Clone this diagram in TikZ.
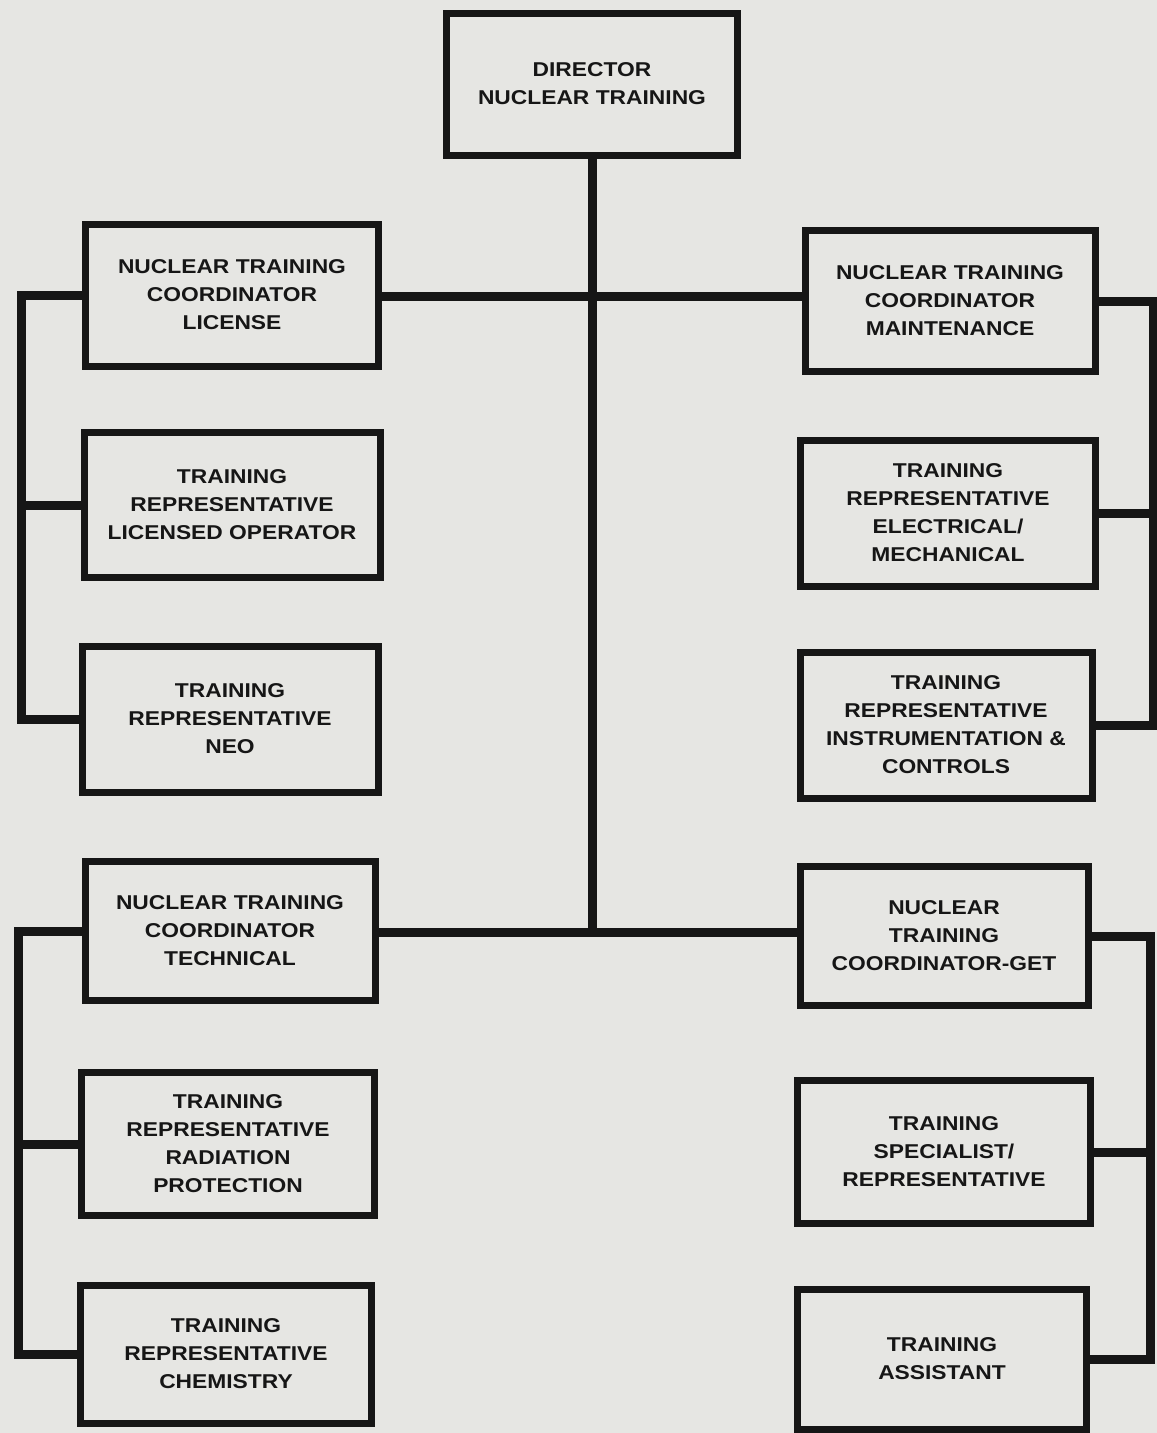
\documentclass[tikz,border=0pt]{standalone}
\usepackage{fontspec}
\setmainfont{Liberation Sans}[FakeStretch=1.14]
\pgfdeclarelayer{bg}
\pgfsetlayers{bg,main}
\begin{document}
\begin{tikzpicture}[x=1pt,y=-1pt,
  box/.style={draw=ink,line width=7pt,fill=paper,minimum width=#1,align=center,
    inner sep=0pt,font=\fontsize{20}{28}\selectfont\bfseries,text=ink},
  box/.default=291pt,
  link/.style={draw=ink,line width=9pt},
  bracket/.style={link,line cap=rect}]
\definecolor{paper}{HTML}{E6E6E3}
\definecolor{ink}{HTML}{161616}
\useasboundingbox (0,0) rectangle (1157,1433);
% boxes
\node[box, minimum height=142pt] (D) at (592,84) {DIRECTOR\\NUCLEAR TRAINING};
\node[box=293pt, minimum height=142pt] (L1) at (232,295) {NUCLEAR TRAINING\\COORDINATOR\\LICENSE};
\node[box=296pt, minimum height=145pt] (L2) at (232,505) {TRAINING\\REPRESENTATIVE\\LICENSED OPERATOR};
\node[box=296pt, minimum height=146pt] (L3) at (230,719) {TRAINING\\REPRESENTATIVE\\NEO};
\node[box=290pt, minimum height=139pt] (L4) at (230,931) {NUCLEAR TRAINING\\COORDINATOR\\TECHNICAL};
\node[box=293pt, minimum height=143pt] (L5) at (228,1144) {TRAINING\\REPRESENTATIVE\\RADIATION\\PROTECTION};
\node[box=291pt, minimum height=138pt] (L6) at (226,1354) {TRAINING\\REPRESENTATIVE\\CHEMISTRY};
\node[box=290pt, minimum height=141pt] (R1) at (950,301) {NUCLEAR TRAINING\\COORDINATOR\\MAINTENANCE};
\node[box=295pt, minimum height=146pt] (R2) at (948,513) {TRAINING\\REPRESENTATIVE\\ELECTRICAL/\\MECHANICAL};
\node[box=292pt, minimum height=146pt] (R3) at (946,725) {TRAINING\\REPRESENTATIVE\\INSTRUMENTATION \&\\CONTROLS};
\node[box=288pt, minimum height=139pt] (R4) at (944,936) {NUCLEAR\\TRAINING\\COORDINATOR-GET};
\node[box=293pt, minimum height=143pt] (R5) at (944,1152) {TRAINING\\SPECIALIST/\\REPRESENTATIVE};
\node[box=289pt, minimum height=140pt] (R6) at (942,1359) {TRAINING\\ASSISTANT};
% helper coordinates
\coordinate (top) at (592,296);
\coordinate (bot) at (592,932);
\coordinate (lxa) at (21,0);
\coordinate (lxb) at (18,0);
\coordinate (rxa) at (1153,0);
\coordinate (rxb) at (1150,0);
\begin{pgfonlayer}{bg}
\fill[paper] (0,0) rectangle (1157,1433);
% trunk and main horizontals
\draw[link] (D.south) -- (bot);
\draw[link] (L1.east |- top) -- (R1.west |- top);
\draw[link] (L4.east |- bot) -- (R4.west |- bot);
% left upper bracket
\draw[bracket] (L1.west) -- (L1.west -| lxa) |- (L3.west);
\draw[link] (L2.west -| lxa) -- (L2.west);
% left lower bracket
\draw[bracket] (L4.west) -- (L4.west -| lxb) |- (L6.west);
\draw[link] (L5.west -| lxb) -- (L5.west);
% right upper bracket
\draw[bracket] (R1.east) -- (R1.east -| rxa) |- (R3.east);
\draw[link] (R2.east -| rxa) -- (R2.east);
% right lower bracket
\draw[bracket] (R4.east) -- (R4.east -| rxb) |- (R6.east);
\draw[link] (R5.east -| rxb) -- (R5.east);
\end{pgfonlayer}
\end{tikzpicture}
\end{document}
